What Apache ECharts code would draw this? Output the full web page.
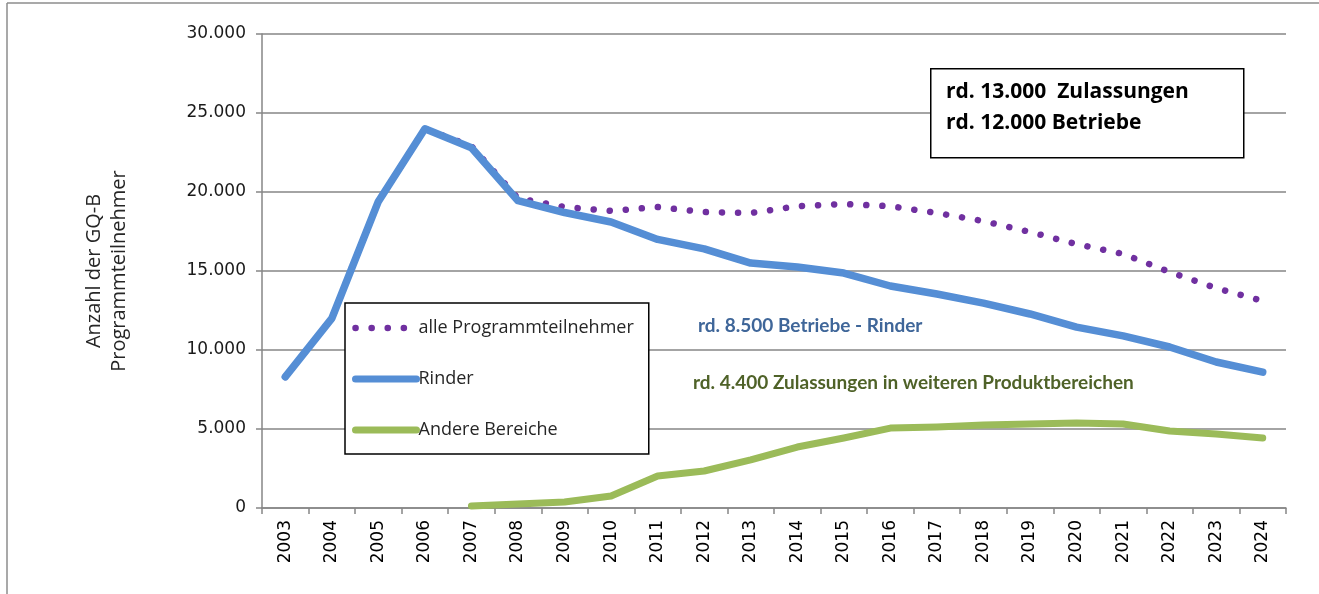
<!DOCTYPE html>
<html>
<head>
<meta charset="utf-8">
<script src="https://cdn.jsdelivr.net/npm/echarts@6/dist/echarts.min.js"></script>
<style>
html,body{margin:0;padding:0;background:#fff;}
#c{width:1319px;height:594px;}
</style>
</head>
<body>
<div id="c"></div>
<script>
const years = ['2003','2004','2005','2006','2007','2008','2009','2010','2011','2012','2013','2014','2015','2016','2017','2018','2019','2020','2021','2022','2023','2024'];
const alleProgrammteilnehmer = [8300,12000,19400,24000,22900,19600,19050,18800,19050,18730,18670,19100,19240,19100,18670,18160,17470,16700,16080,14940,13920,13100];
const rinder = [8300,12000,19400,24000,22800,19450,18700,18100,17000,16400,15500,15250,14870,14050,13540,12970,12280,11450,10890,10190,9240,8600];
const andereBereiche = [null,null,null,null,130,250,380,760,2030,2340,3040,3860,4430,5060,5130,5250,5320,5380,5320,4870,4680,4430];
const seriesNames = ['alle Programmteilnehmer','Rinder','Andere Bereiche'];
const yTicks = {min:0, max:30000, interval:5000};
const boxLines = ['rd. 13.000  Zulassungen','rd. 12.000 Betriebe'];
const noteRinder = 'rd. 8.500 Betriebe - Rinder';
const noteAndere = 'rd. 4.400 Zulassungen in weiteren Produktbereichen';

const chart = echarts.init(document.getElementById('c'), null, {renderer:'canvas'});
const txt = '#262626';
const purple = '#7030A0', blue = '#558ED5', green = '#9BBB59';
chart.setOption({
  animation:false,
  backgroundColor:'#fff',
  grid:{left:262, right:33, top:34, bottom:86},
  legend:{
    orient:'vertical', left:345, top:303,
    backgroundColor:'#fff', borderColor:'#000', borderWidth:1.5,
    padding:[13,15,12,7], itemGap:27, itemWidth:61, itemHeight:14,
    itemStyle:{opacity:0, color:'rgba(0,0,0,0)', borderWidth:0},
    textStyle:{fontFamily:'Open Sans', fontSize:18, lineHeight:24, color:txt, padding:[0,0,0,-3]},
    data:[
      {name:seriesNames[0], lineStyle:{color:purple, width:6.5, type:[0.1,16], cap:'round'}},
      {name:seriesNames[1], lineStyle:{color:blue, width:7, type:'solid', cap:'round'}},
      {name:seriesNames[2], lineStyle:{color:green, width:7, type:'solid', cap:'round'}}
    ]
  },
  xAxis:{
    type:'category', data:years, boundaryGap:true,
    axisLine:{lineStyle:{color:'#868686', width:1.5}},
    axisTick:{show:true, length:6, lineStyle:{color:'#868686', width:1.5}},
    axisLabel:{rotate:90, fontFamily:'DejaVu Sans', fontSize:17, color:'#000', margin:12, interval:0}
  },
  yAxis:{
    type:'value', min:yTicks.min, max:yTicks.max, interval:yTicks.interval,
    name:'Anzahl der GQ-B\nProgrammteilnehmer', nameLocation:'middle', nameGap:130, nameRotate:90,
    nameTextStyle:{fontFamily:'Open Sans', fontSize:20, color:txt, lineHeight:25},
    axisLine:{show:true, lineStyle:{color:'#868686', width:1.5}},
    axisTick:{show:true, length:6, lineStyle:{color:'#868686', width:1.5}},
    splitLine:{lineStyle:{color:'#868686', width:1.5}},
    axisLabel:{fontFamily:'DejaVu Sans', fontSize:17, color:'#1a1a1a', margin:16,
      formatter:v=> v===0 ? '0' : (v/1000).toFixed(3)}
  },
  series:[
    {name:seriesNames[0], type:'line', data:alleProgrammteilnehmer, symbol:'none', smooth:false, z:2,
      lineStyle:{color:purple, width:6.5, type:[0.1,16], cap:'round'}, itemStyle:{color:purple}},
    {name:seriesNames[1], type:'line', data:rinder, symbol:'none', z:4,
      lineStyle:{color:blue, width:7.5, cap:'round', join:'round'}, itemStyle:{color:blue}},
    {name:seriesNames[2], type:'line', data:andereBereiche, symbol:'none', z:3,
      lineStyle:{color:green, width:7, cap:'round', join:'round'}, itemStyle:{color:green}}
  ],
  graphic:[
    {type:'line', shape:{x1:7, y1:3, x2:1319, y2:3}, style:{stroke:'#8c8c8c', lineWidth:1.5}, silent:true},
    {type:'line', shape:{x1:7, y1:3, x2:7, y2:594}, style:{stroke:'#8c8c8c', lineWidth:1.5}, silent:true},
    {type:'rect', left:930, top:68, shape:{width:313, height:89}, style:{fill:'#fff', stroke:'#000', lineWidth:1.5}, z:10},
    {type:'text', left:946, top:77, style:{text:boxLines.join('\n'), fontFamily:'Open Sans', fontWeight:'bold', fontSize:21, lineHeight:31, fill:'#000'}, z:11},
    {type:'text', left:698, top:316, style:{text:noteRinder, fontFamily:'Lato', fontWeight:'bold', fontSize:19, fill:'#3F6699'}, z:11},
    {type:'text', left:693, top:373, style:{text:noteAndere, fontFamily:'Lato', fontWeight:'bold', fontSize:19, fill:'#4F6228'}, z:11}
  ]
});
</script>
</body>
</html>
